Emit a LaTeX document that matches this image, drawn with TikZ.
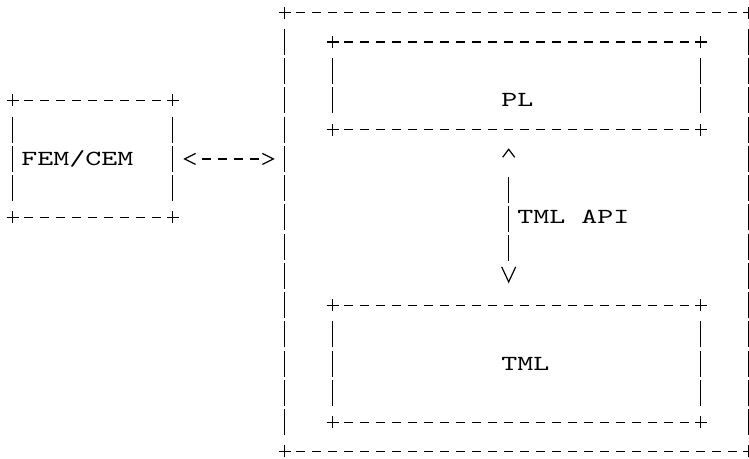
\documentclass[tikz,border=0pt]{standalone}
\usepackage{fontspec}
\usepackage{tikz}
\usetikzlibrary{arrows.meta,calc}
\newfontfamily\asciifont{lmmono10-regular.otf}[FakeStretch=1.4173]

\begin{document}
\begin{tikzpicture}[x=16pt, y=-29.25pt, line width=1.2pt,
  asciibox/.style 2 args={rectangle, inner sep=0pt, outer sep=0pt, minimum width=#1*16pt, minimum height=#2*29.25pt},
  tag/.style={inner sep=0pt, anchor=base west, xshift=-8pt, yshift=-6.5pt, font=\asciifont\fontsize{21.5}{26}\selectfont},
  hdash/.style={dash pattern=on 9pt off 7pt, shorten <=11.5pt, shorten >=11.5pt},
  vdash/.style={dash pattern=on 26pt off 3.25pt, shorten <=16.25pt, shorten >=16.25pt},
  plus/.pic={\draw (-6pt,0pt) -- (6pt,0pt) (0pt,-6pt) -- (0pt,6pt);}]
\useasboundingbox (-0.794,-0.434) rectangle (46.02,15.258);
\node[asciibox={10}{4}] (fem) at (5,5) {};
\node[asciibox={29}{15}] (host) at (31.5,7.5) {};
\node[asciibox={23}{3}] (pl) at (31.5,2.5) {};
\node[asciibox={23}{4}] (tml) at (31.5,12) {};
% ascii frames
\foreach \b in {fem,host,pl,tml} {
  \draw[hdash] (\b.north west) -- (\b.north east);
  \draw[hdash] (\b.south west) -- (\b.south east);
  \draw[vdash] (\b.north west) -- (\b.south west);
  \draw[vdash] (\b.north east) -- (\b.south east);
  \foreach \a in {north west,north east,south west,south east}
    \pic at (\b.\a) {plus};
}
\node[tag] (fem-name) at (1,5) {FEM/CEM};
\node[tag] (pl-name) at (31,3) {PL};
\node[tag] (tml-name) at (31,12) {TML};
\draw[{Straight Barb[length=11pt,width=11pt]}-{Straight Barb[length=11pt,width=11pt]}, dash pattern=on 0pt off 16.9pt on 9pt off 7pt on 9pt off 7pt on 9pt off 7pt on 9pt off 20pt, shorten <=10.6pt, shorten >=10pt] (fem.east) -- (fem.east -| host.west);
\draw[{Straight Barb[length=8pt,width=12pt]}-{Straight Barb[length=15pt,width=14pt]}, dash pattern=on 0pt off 26.9pt on 26pt off 3.25pt on 26pt off 3.25pt on 26pt off 40pt, shorten <=18.6pt, shorten >=21.9pt] ([xshift=-8pt]pl.south) -- ([xshift=-8pt]tml.north);
\node[tag] (api) at (32,7) {TML API};
\end{tikzpicture}
\end{document}
